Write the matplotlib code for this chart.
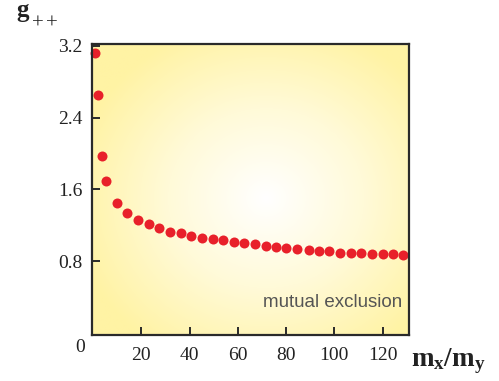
import numpy as np
import matplotlib
matplotlib.use("Agg")
import matplotlib.pyplot as plt
from matplotlib.colors import LinearSegmentedColormap

# Pair correlation g++ versus mass ratio
mass_ratio = [0.95, 2.2, 3.6, 5.5, 9.8, 14.2, 18.6, 23.2, 27.5, 31.9, 36.3, 40.6,
              45.0, 49.6, 54.0, 58.3, 62.7, 67.1, 71.5, 75.8, 79.8, 84.6, 89.3,
              93.7, 97.8, 102.3, 106.7, 111.0, 115.5, 120.0, 124.3, 128.5]
g_pp = [3.118, 2.653, 1.972, 1.696, 1.444, 1.333, 1.258, 1.213, 1.169, 1.127,
        1.109, 1.083, 1.060, 1.046, 1.031, 1.016, 1.004, 0.990, 0.968, 0.955,
        0.942, 0.931, 0.920, 0.915, 0.908, 0.893, 0.893, 0.886, 0.882, 0.878,
        0.875, 0.864]

x_ticks = [20, 40, 60, 80, 100, 120]
y_ticks = [0.8, 1.6, 2.4, 3.2]
y_tick_labels = ["0.8", "1.6", "2.4", "3.2"]

plt.rcParams["mathtext.fontset"] = "custom"
plt.rcParams["mathtext.rm"] = "Liberation Serif"
plt.rcParams["mathtext.bf"] = "Liberation Serif:bold"
plt.rcParams["mathtext.it"] = "Liberation Serif:italic"

fig = plt.figure(figsize=(4.99, 3.81), dpi=100)
ax = fig.add_axes([0.185, 0.1215, 0.635, 0.763])

xlim = (-0.3, 131.0)
ylim = (-0.022, 3.222)
ax.set_xlim(*xlim)
ax.set_ylim(*ylim)

# Soft radial background: white in the middle, pale yellow toward the edges
cmap = LinearSegmentedColormap.from_list("bg", ["#ffffff", "#fffad8", "#fff3a4"])
gx, gy = np.meshgrid(np.linspace(0, 1, 300), np.linspace(0, 1, 300))
r = np.sqrt((gx - 0.55) ** 2 + (gy - 0.47) ** 2)
r = np.clip(r / 0.62, 0, 1)
ax.imshow(r, cmap=cmap, vmin=0, vmax=1, origin="lower", aspect="auto",
          extent=[xlim[0], xlim[1], ylim[0], ylim[1]], zorder=0,
          interpolation="bilinear")

ax.plot(mass_ratio, g_pp, "o", color="#e8202a", markersize=7.2,
        markeredgewidth=0, zorder=3, clip_on=False)

for s in ax.spines.values():
    s.set_linewidth(1.6)
    s.set_color("#2a2a2a")
    s.set_zorder(4)

ax.set_xticks(x_ticks)
ax.set_xticklabels([str(v) for v in x_ticks])
ax.set_yticks(y_ticks)
ax.set_yticklabels(y_tick_labels)
ax.tick_params(direction="in", length=6, width=1.4, color="#2a2a2a",
               labelsize=14, labelcolor="#222222")
ax.tick_params(axis="x", pad=9)
ax.tick_params(axis="y", pad=7)
for lab in ax.get_xticklabels() + ax.get_yticklabels():
    lab.set_family("Liberation Serif")

# Origin label shared by both axes
fig.text(80 / 499, 1 - 347 / 381, "0", ha="center", va="center",
         fontsize=14, family="Liberation Serif", color="#222222")

ax.text(0.978, 0.11, "mutual exclusion", transform=ax.transAxes,
        ha="right", va="center", fontsize=13.5, family="Liberation Sans",
        color="#555555", zorder=5)

# y-axis title: bold g with ++ subscript
fig.text(16 / 499, 1 - 17 / 381, r"$\mathbf{g}$", ha="left", va="baseline",
         fontsize=18, color="#222222")
fig.text(31 / 499, 1 - 27 / 381, r"$\mathrm{++}$", ha="left", va="baseline",
         fontsize=15, color="#222222")

fig.text(411 / 499, 1 - 366 / 381, r"$\mathbf{m_x/m_y}$", ha="left",
         va="baseline", fontsize=19.5, color="#222222")

fig.savefig("out.png", dpi=100)
